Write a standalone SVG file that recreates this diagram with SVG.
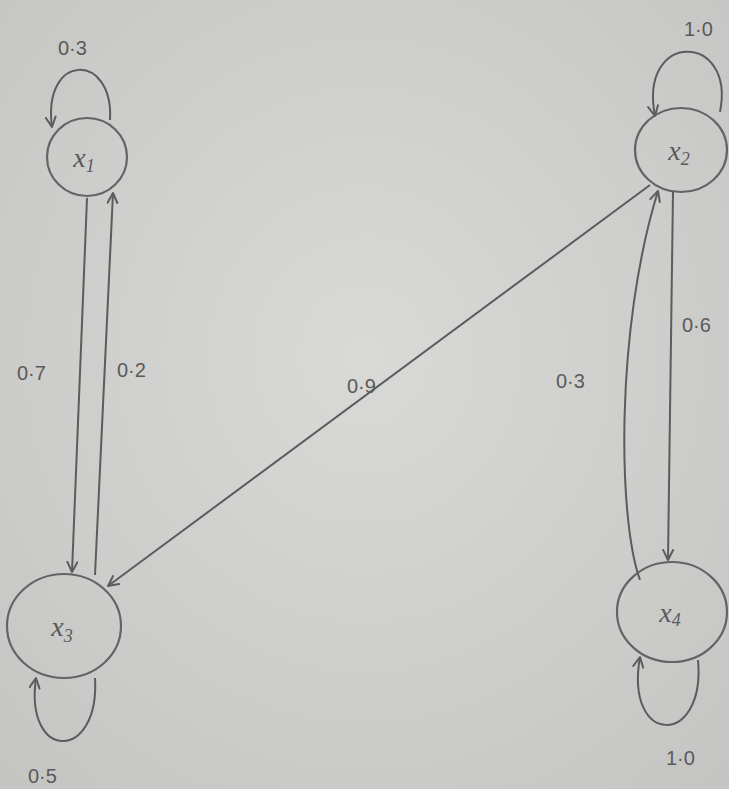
<svg xmlns="http://www.w3.org/2000/svg" width="729" height="789" viewBox="0 0 729 789">
<defs>
<radialGradient id="paper" cx="50%" cy="45%" r="75%">
<stop offset="0" stop-color="#d9d9d7"/>
<stop offset="1" stop-color="#c4c4c2"/>
</radialGradient>
<marker id="ah" viewBox="0 0 12 12" refX="11" refY="6" markerWidth="12" markerHeight="12" markerUnits="userSpaceOnUse" orient="auto">
<path d="M1 1 L11 6 L1 11" fill="none" stroke="#5c5c5c" stroke-width="2" stroke-linecap="round" stroke-linejoin="round"/>
</marker>
<style>
.node{fill:none;stroke:#646464;stroke-width:2.2}
.edge{fill:none;stroke:#5c5c5c;stroke-width:2;marker-end:url(#ah)}
.lbl{font-family:"Liberation Sans",Arial,sans-serif;font-size:20px;fill:#5a5a5a}
.nl{font-family:"Liberation Serif","Times New Roman",serif;font-style:italic;font-size:28px;fill:#5a5a5a;text-anchor:middle}
.sub{font-size:18px}
</style>
</defs>
<rect x="0" y="0" width="729" height="789" fill="url(#paper)"/>
<g id="connectors">
<path class="edge" d="M 110 120 C 114 52, 42 52, 52 127"/>
<path class="edge" d="M 720 112 C 736 32, 638 30, 655 116"/>
<path class="edge" d="M 95 678 C 100 762, 24 762, 36 678"/>
<path class="edge" d="M 698 660 C 706 747, 624 747, 640 657"/>
<path class="edge" d="M 87 198 L 72 572"/>
<path class="edge" d="M 95 575 L 113 193"/>
<path class="edge" d="M 650 185 L 108 586"/>
<path class="edge" d="M 673 192 L 668 560"/>
<path class="edge" d="M 640 580 C 618 520, 615 330, 658 191"/>
</g>
<g id="x1"><ellipse class="node" cx="87" cy="157" rx="40" ry="39"/><text class="nl" x="84" y="167">x<tspan class="sub" dy="5">1</tspan></text></g>
<g id="x2"><ellipse class="node" cx="681" cy="150" rx="46" ry="42"/><text class="nl" x="679" y="160">x<tspan class="sub" dy="5">2</tspan></text></g>
<g id="x3"><ellipse class="node" cx="64" cy="626" rx="57" ry="52"/><text class="nl" x="62" y="636">x<tspan class="sub" dy="6">3</tspan></text></g>
<g id="x4"><ellipse class="node" cx="672" cy="612" rx="55" ry="50"/><text class="nl" x="670" y="622">x<tspan class="sub" dy="4">4</tspan></text></g>
<g id="labels">
<text class="lbl" x="58" y="55">0·3</text>
<text class="lbl" x="684" y="36">1·0</text>
<text class="lbl" x="17" y="380">0·7</text>
<text class="lbl" x="117" y="377">0·2</text>
<text class="lbl" x="347" y="393">0·9</text>
<text class="lbl" x="556" y="388">0·3</text>
<text class="lbl" x="682" y="332">0·6</text>
<text class="lbl" x="28" y="783">0·5</text>
<text class="lbl" x="666" y="765">1·0</text>
</g>
</svg>
